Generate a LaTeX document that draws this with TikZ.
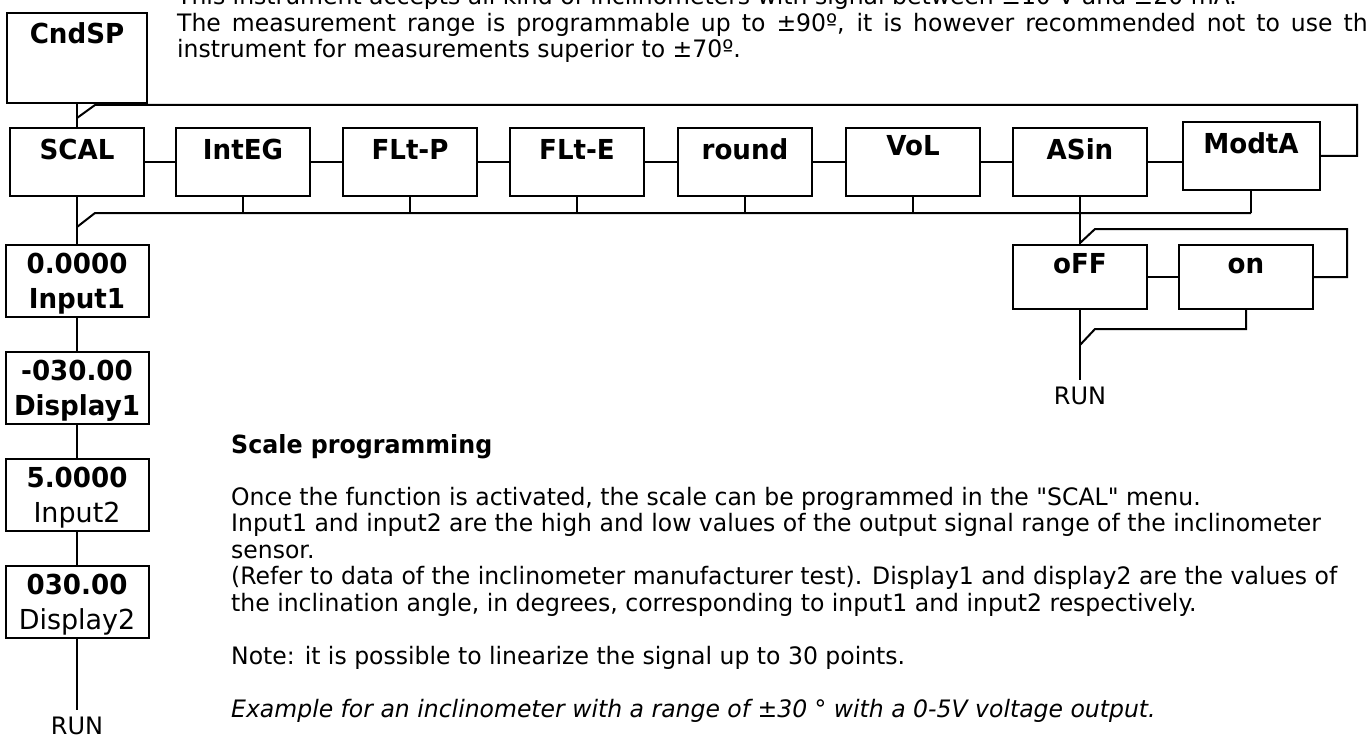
\documentclass[tikz,border=0pt]{standalone}
\usepackage{fontspec}
\setmainfont{DejaVu Sans}[FakeStretch=0.98, BoldFeatures={FakeStretch=0.95}]
\newfontfamily\widefont{DejaVu Sans}
\newfontfamily\qfont{DejaVu Sans}[FakeStretch=0.98]
\begin{document}
\begin{tikzpicture}[x=1pt,y=-1pt,
  box/.style={draw, line width=2pt, minimum width=134pt, minimum height=68pt, inner sep=0pt},
  lbl/.style={anchor=base, inner sep=0pt, font=\fontsize{27.5}{30}\selectfont\bfseries},
  two/.style={draw, line width=2pt, minimum width=143pt, minimum height=72pt, inner sep=0pt, text depth=0pt, align=center, font=\fontsize{27.5}{35}\selectfont},
  wire/.style={line width=2pt},
  body/.style={anchor=base west, inner sep=0pt, font=\fontsize{24}{26}\selectfont},
  run/.style={inner sep=0pt, anchor=base, font=\widefont\fontsize{24}{26}\selectfont}
]
\clip (0,0) rectangle (1367,738);
\fill[white] (0,0) rectangle (1367,738);

% top text
\node[body] (t1) at (177,5) {This instrument accepts all kind of inclinometers with signal between ±10 V and ±20 mA.};
\node[body] (t2) at (177,32) {\makebox[1205pt][s]{The measurement range is programmable up to ±90º, it is however recommended not to use the}};
\node[body] (t3) at (177,58) {instrument for measurements superior to ±70º.};

% CndSP
\node[box, minimum width=140pt, minimum height=90pt] (cnd) at (77,58) {};
\node[lbl] (cndt) at (77,44) {CndSP};

% main row
\foreach \n/\t/\x/\b in {scal/SCAL/77/160, integ/IntEG/243/160, fltp/FLt-P/410/160, flte/FLt-E/577/160, round/round/745/160, vol/VoL/913/156, asin/ASin/1080/160}{
  \node[box] (\n) at (\x,162) {};
  \node[lbl] (\n t) at (\x,\b) {\t};
}
\node[box, minimum width=137pt] (modta) at (1251,156) {};
\node[lbl] (modtat) at (1251,154) {ModtA};

\draw[wire] (cnd.south) -- (scal.north);
\coordinate (tl) at (77,118);
\draw[wire] (tl) -- (95,105) -- (1357,105) -- (1357,156) -- (modta.east);

\draw[wire] (scal) -- (integ) (integ) -- (fltp) (fltp) -- (flte) (flte) -- (round) (round) -- (vol) (vol) -- (asin);
\draw[wire] (asin.east) -- (asin.east -| modta.west);

% bottom bus
\coordinate (bl) at (77,227);
\draw[wire] (bl) -- (95,213) -- (1251,213);
\foreach \n in {integ,fltp,flte,round,vol,asin}{ \draw[wire] (\n.south) -- ++(0,17); }
\draw[wire] (modta.south) -- (1251,213);

% oFF / on
\node[box, minimum height=64pt] (off) at (1080,277) {};
\node[lbl] (offt) at (1080,273) {oFF};
\node[box, minimum height=64pt] (on) at (1246,277) {};
\node[lbl] (ont) at (1246,273) {on};
\draw[wire] (asin.south) -- (off.north);
\draw[wire] (off) -- (on);
\coordinate (ol) at (1080,243);
\draw[wire] (ol) -- (1095,229) -- (1347,229) -- (1347,277) -- (on.east);
\node[run] (run2) at (1080,404) {RUN};
\draw[wire] (off.south) -- (1080,380);
\coordinate (obl) at (1080,345);
\draw[wire] (on.south) -- (1246,329) -- (1095,329) -- (obl);

% left column
\node[two] (in1) at (77,281) {\bfseries 0.0000\\\bfseries Input1};
\node[two] (d1) at (77,387.5) {\bfseries -030.00\\\bfseries Display1};
\node[two] (in2) at (77,494.5) {\bfseries 5.0000\\Input2};
\node[two] (d2) at (77,602) {\bfseries 030.00\\Display2};
\draw[wire] (scal.south) -- (in1.north);
\draw[wire] (in1) -- (d1) (d1) -- (in2) (in2) -- (d2);
\node[run] (run1) at (77,734) {RUN};
\draw[wire] (d2.south) -- (77,710);

% body text
\node[body, font=\fontsize{25}{26}\selectfont\bfseries] (h) at (231,453) {Scale programming};
\node[body] (p1) at (231,505) {Once the function is activated, the scale can be programmed in the {\qfont"}SCAL{\qfont"} menu.};
\node[body] (p2) at (231,531.5) {Input1 and input2 are the high and low values of the output signal range of the inclinometer};
\node[body] (p3) at (231,558) {sensor.};
\node[body] (p4) at (231,584.5) {(Refer to data of the inclinometer manufacturer test). Display1 and display2 are the values of};
\node[body] (p5) at (231,611) {the inclination angle, in degrees, corresponding to input1 and input2 respectively.};
\node[body] (p6) at (231,664) {Note: it is possible to linearize the signal up to 30 points.};
\node[body, font=\fontsize{24}{26}\selectfont\itshape] (p7) at (231,717) {Example for an inclinometer with a range of ±30 ° with a 0-5V voltage output.};
\end{tikzpicture}
\end{document}
